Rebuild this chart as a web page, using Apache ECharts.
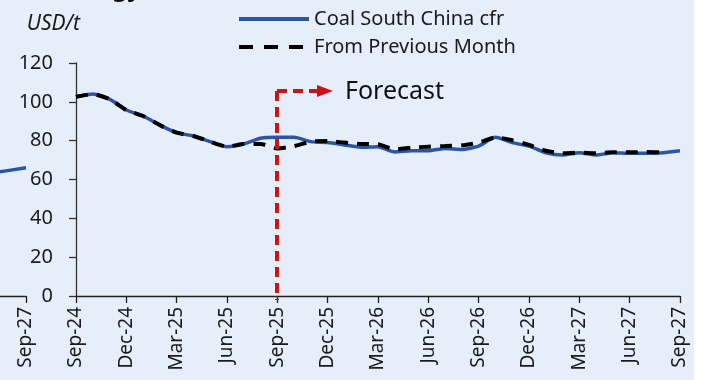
<!DOCTYPE html>
<html lang="en">
<head>
    <meta charset="UTF-8">
    <title>Coal South China cfr</title>
    <script src="https://cdn.jsdelivr.net/npm/echarts@6.0.0/dist/echarts.min.js"></script>
    <style>
        html, body { margin: 0; padding: 0; background: #fff; }
        #chart {
            width: 710px;
            height: 380px;
            background: linear-gradient(to right, #e6eef9 694px, #ffffff 694px);
        }
    </style>
</head>
<body>
    <div id="chart"></div>
    <script>
        // monthly axis, Sep-24 .. Sep-27
        const months = ['Sep-24', 'Oct-24', 'Nov-24', 'Dec-24', 'Jan-25', 'Feb-25', 'Mar-25', 'Apr-25', 'May-25',
            'Jun-25', 'Jul-25', 'Aug-25', 'Sep-25', 'Oct-25', 'Nov-25', 'Dec-25', 'Jan-26', 'Feb-26', 'Mar-26',
            'Apr-26', 'May-26', 'Jun-26', 'Jul-26', 'Aug-26', 'Sep-26', 'Oct-26', 'Nov-26', 'Dec-26', 'Jan-27',
            'Feb-27', 'Mar-27', 'Apr-27', 'May-27', 'Jun-27', 'Jul-27', 'Aug-27', 'Sep-27'];

        const coalSouthChina = [102.6, 104, 101.4, 95.8, 92.7, 88, 84.1, 82.4, 79.5,
            76.9, 78.3, 81.2, 81.7, 81.7, 79.5, 79, 77.8, 76.6, 76.9,
            74.2, 74.8, 74.8, 76, 75.5, 77.2, 81.7, 79, 77.2, 73.8,
            72.6, 73.8, 72.6, 73.8, 73.5, 73.5, 73.8, 74.8];

        const fromPreviousMonth = [102.6, 104, 101.4, 95.8, 92.7, 88, 84.1, 82.4, 79.5,
            76.9, 78.3, 78.3, 76, 77.2, 79.5, 79.8, 79, 78.3, 78.1,
            75.5, 76.4, 76.9, 77.2, 77.6, 79, 81.7, 80.3, 77.8, 74.8,
            73.5, 73.8, 73.5, 74, 74, 74.2, 74, null];

        // tail of the neighbouring chart that shows at the left edge
        const neighbourMonths = ['Jul-27', 'Aug-27', 'Sep-27'];
        const neighbourValues = [63.4, 64.7, 66];

        const forecastStart = 'Sep-25';
        const forecastTop = 105.5;

        const font = 'Noto Sans';
        const blue = '#2b55a5';
        const red = '#cc1414';

        const neighbourData = months.map(m => {
            const i = neighbourMonths.indexOf(m);
            return i < 0 ? null : neighbourValues[i];
        });

        const chart = echarts.init(document.getElementById('chart'));

        const xAxisBase = {
            type: 'category',
            data: months,
            boundaryGap: false,
            axisLine: { lineStyle: { color: '#222', width: 1.3 } },
            axisTick: { interval: 2, length: 7, lineStyle: { color: '#222', width: 1.3 } },
            axisLabel: { interval: 2, rotate: 90, margin: 11, fontFamily: font, fontSize: 19, color: '#1a1a1a' }
        };

        chart.setOption({
            animation: false,
            textStyle: { fontFamily: font },
            grid: [
                { left: 76, right: 30, top: 63, bottom: 84, outerBoundsMode: 'none' },
                { left: -578, right: 684, top: 63, bottom: 84, outerBoundsMode: 'none' }
            ],
            legend: {
                data: [
                    { name: 'Coal South China cfr' },
                    { name: 'From Previous Month', lineStyle: { type: [14, 11] } }
                ],
                orient: 'vertical',
                left: 232,
                top: 4,
                itemWidth: 70,
                itemHeight: 20,
                itemGap: 8,
                itemStyle: { opacity: 0 },
                lineStyle: { width: 4 },
                textStyle: { fontFamily: font, fontSize: 20, color: '#1a1a1a' }
            },
            xAxis: [
                Object.assign({ gridIndex: 0 }, xAxisBase),
                Object.assign({ gridIndex: 1 }, xAxisBase)
            ],
            yAxis: [
                {
                    gridIndex: 0, type: 'value', min: 0, max: 120, interval: 20,
                    name: 'USD/t',
                    nameLocation: 'end',
                    nameGap: 28,
                    nameTextStyle: { fontFamily: font, fontSize: 21, fontStyle: 'italic', color: '#1a1a1a', align: 'right', padding: [0, -4, 0, 0] },
                    axisLine: { show: true, lineStyle: { color: '#333', width: 1.3 } },
                    axisTick: { show: true, length: 7, lineStyle: { color: '#333', width: 1.3 } },
                    axisLabel: { margin: 23, fontFamily: font, fontSize: 20, color: '#1a1a1a' },
                    splitLine: { show: false }
                },
                { gridIndex: 1, type: 'value', min: 0, max: 120, show: false }
            ],
            series: [
                {
                    name: 'Coal South China cfr',
                    type: 'line',
                    xAxisIndex: 0, yAxisIndex: 0,
                    data: coalSouthChina,
                    symbol: 'none',
                    smooth: 0.2,
                    lineStyle: { color: blue, width: 3.5 },
                    itemStyle: { color: blue },
                    z: 2
                },
                {
                    name: 'From Previous Month',
                    type: 'line',
                    xAxisIndex: 0, yAxisIndex: 0,
                    data: fromPreviousMonth,
                    symbol: 'none',
                    smooth: 0.2,
                    lineStyle: { color: '#000', width: 4, type: [12, 9] },
                    itemStyle: { color: '#000' },
                    z: 3
                },
                {
                    name: 'neighbour',
                    type: 'line',
                    xAxisIndex: 1, yAxisIndex: 1,
                    data: neighbourData,
                    symbol: 'none',
                    lineStyle: { color: blue, width: 3.5 },
                    z: 2
                }
            ]
        });

        // forecast marker placed from the data scale
        const p = chart.convertToPixel({ xAxisIndex: 0, yAxisIndex: 0 }, [forecastStart, forecastTop]);
        const base = chart.convertToPixel({ xAxisIndex: 0, yAxisIndex: 0 }, [forecastStart, 0]);
        const x0 = Math.round(p[0]);
        const y0 = Math.round(p[1]);
        const yBase = Math.round(base[1]) + 4;
        const dashed = { stroke: red, lineWidth: 4, lineDash: [10, 6] };

        chart.setOption({
            graphic: [
                {
                    type: 'text', x: 141, y: 1,
                    style: { text: 'Energy', fontFamily: font, fontSize: 24, fontWeight: 'bold', fill: '#111', align: 'right', verticalAlign: 'bottom' }
                },
                { type: 'line', shape: { x1: x0, y1: y0, x2: x0, y2: yBase }, style: dashed, z: 10 },
                { type: 'line', shape: { x1: x0, y1: y0, x2: x0 + 42, y2: y0 }, style: dashed, z: 10 },
                { type: 'polygon', shape: { points: [[x0 + 40, y0 - 6], [x0 + 40, y0 + 6], [x0 + 56, y0]] }, style: { fill: red }, z: 10 },
                {
                    type: 'text', x: x0 + 68, y: y0 + 1,
                    style: { text: 'Forecast', fontFamily: font, fontSize: 25, fill: '#111', verticalAlign: 'middle' }, z: 10
                }
            ]
        });
    </script>
</body>
</html>
